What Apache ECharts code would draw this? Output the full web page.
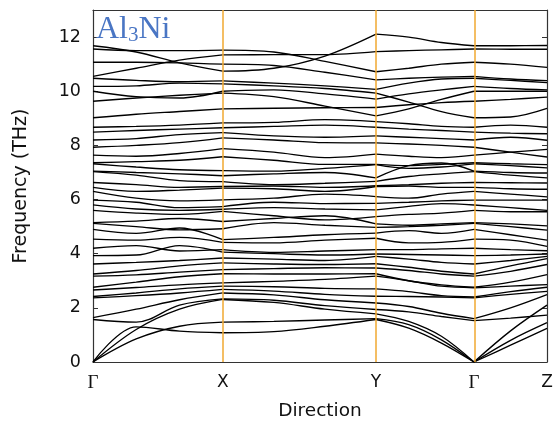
<!DOCTYPE html>
<html><head><meta charset="utf-8">
<script src="https://cdn.jsdelivr.net/npm/echarts@6/dist/echarts.min.js"></script>
<style>html,body{margin:0;padding:0;background:#fff}#c{width:556px;height:426px}</style>
</head><body><div id="c"></div>
<script>
// High-symmetry path labels and their positions along the path
const kLabels = ['Γ', 'X', 'Y', 'Γ', 'Z'];
const kTicks = [0, 1.0, 2.182, 2.937, 3.5];
// Sample positions along the k-path (shared by every band)
const kx = [0, 0.333, 0.667, 1.0, 1.394, 1.788, 2.182, 2.434, 2.686, 2.937, 3.219, 3.5];
// Segment index ranges (Γ-X, X-Y, Y-Γ, Γ-Z)
const segs = [[0, 3], [3, 6], [6, 9], [9, 11]];
// Band frequencies (THz) at the sample positions
const b01 = [0, 1.3, 1.14, 1.08, 1.12, 1.32, 1.57, 1.25, 0.7, 0, 0.62, 1.24];
const b02 = [0, 0.85, 1.32, 1.47, 1.5, 1.55, 1.60, 1.38, 0.82, 0, 0.8, 1.45];
const b03 = [0, 1.2, 1.95, 2.31, 2.2, 1.95, 1.78, 1.5, 0.95, 0, 1.15, 2.10];
const b04 = [1.57, 1.47, 2.1, 2.33, 2.28, 2.08, 1.94, 1.85, 1.68, 1.53, 1.62, 1.73];
const b05 = [1.64, 1.95, 2.3, 2.55, 2.48, 2.3, 2.18, 2.05, 1.8, 1.6, 2.0, 2.49];
const b06 = [2.37, 2.45, 2.55, 2.68, 2.62, 2.5, 2.43, 2.42, 2.4, 2.37, 2.5, 2.61];
const b07 = [2.42, 2.55, 2.7, 2.80, 2.78, 2.72, 2.70, 2.6, 2.45, 2.40, 2.6, 2.76];
const b08 = [2.66, 2.75, 2.85, 2.92, 2.98, 3.05, 3.17, 3.0, 2.8, 2.74, 2.8, 2.86];
const b09 = [2.76, 2.95, 3.15, 3.26, 3.25, 3.25, 3.26, 3.0, 2.85, 2.76, 2.95, 3.23];
const b10 = [3.17, 3.22, 3.32, 3.41, 3.45, 3.48, 3.47, 3.38, 3.25, 3.17, 3.35, 3.60];
const b11 = [3.25, 3.38, 3.55, 3.66, 3.62, 3.6, 3.63, 3.5, 3.35, 3.25, 3.55, 3.82];
const b12 = [3.62, 3.68, 3.75, 3.84, 3.8, 3.75, 3.9, 3.8, 3.68, 3.62, 3.75, 3.90];
const b13 = [3.93, 3.95, 4.3, 4.06, 4.0, 3.95, 3.99, 3.97, 3.95, 3.93, 3.95, 3.99];
const b14 = [4.2, 4.3, 4.1, 4.15, 4.05, 4.1, 4.15, 4.15, 4.18, 4.2, 4.15, 4.11];
const b15 = [4.54, 4.5, 4.6, 4.42, 4.4, 4.5, 4.57, 4.4, 4.42, 4.54, 4.5, 4.27];
const b16 = [4.9, 4.75, 4.95, 4.52, 4.6, 4.7, 4.76, 4.85, 4.75, 4.9, 4.7, 4.5];
const b17 = [5.12, 5.0, 4.88, 4.92, 5.15, 5.05, 4.97, 5.0, 5.05, 5.12, 5.0, 4.87];
const b18 = [5.15, 5.2, 5.3, 5.19, 5.3, 5.4, 5.1, 5.05, 5.1, 5.15, 5.1, 5.03];
const b19 = [5.6, 5.5, 5.45, 5.56, 5.4, 5.25, 5.37, 5.45, 5.5, 5.6, 5.55, 5.55];
const b20 = [5.8, 5.65, 5.6, 5.64, 5.7, 5.65, 5.62, 5.75, 5.85, 5.8, 5.7, 5.6];
const b21 = [5.98, 5.9, 5.7, 5.74, 5.9, 5.85, 5.86, 5.9, 5.95, 5.98, 5.98, 5.98];
const b22 = [6.3, 6.05, 5.95, 5.99, 6.05, 6.2, 6.11, 6.05, 6.2, 6.3, 6.2, 6.1];
const b23 = [6.45, 6.3, 6.35, 6.42, 6.4, 6.3, 6.48, 6.5, 6.45, 6.45, 6.4, 6.38];
const b24 = [6.63, 6.55, 6.45, 6.48, 6.5, 6.45, 6.51, 6.55, 6.6, 6.63, 6.62, 6.61];
const b25 = [7.03, 6.9, 6.7, 6.66, 6.55, 6.6, 6.67, 6.85, 6.95, 7.03, 6.9, 6.80];
const b26 = [7.05, 7.0, 6.95, 6.88, 6.95, 7.0, 6.80, 7.25, 7.35, 7.05, 7.0, 6.98];
const b27 = [7.32, 7.2, 7.1, 7.07, 7.05, 7.15, 7.29, 7.15, 7.2, 7.32, 7.25, 7.17];
const b28 = [7.36, 7.4, 7.45, 7.58, 7.45, 7.3, 7.3, 7.25, 7.3, 7.36, 7.32, 7.29];
const b29 = [7.64, 7.6, 7.7, 7.88, 7.75, 7.55, 7.68, 7.6, 7.55, 7.64, 7.75, 7.85];
const b30 = [7.93, 8.0, 8.1, 8.28, 8.2, 8.1, 8.09, 8.05, 8.0, 7.93, 7.75, 7.57];
const b31 = [8.2, 8.25, 8.4, 8.47, 8.35, 8.3, 8.35, 8.3, 8.25, 8.2, 8.3, 8.19];
const b32 = [8.49, 8.55, 8.6, 8.65, 8.7, 8.75, 8.67, 8.6, 8.55, 8.49, 8.45, 8.43];
const b33 = [8.67, 8.7, 8.75, 8.83, 8.85, 8.95, 8.88, 8.8, 8.7, 8.67, 8.75, 8.67];
const b34 = [9.02, 9.15, 9.25, 9.35, 9.37, 9.39, 9.40, 9.5, 9.58, 9.63, 9.7, 9.78];
const b35 = [9.63, 9.75, 9.85, 9.93, 9.8, 9.45, 9.09, 9.35, 9.7, 10.0, 10.0, 10.0];
const b36 = [10.0, 9.8, 9.75, 10.0, 10.05, 9.9, 9.71, 9.9, 10.05, 10.18, 10.1, 10.05];
const b37 = [10.18, 10.2, 10.3, 10.27, 10.2, 10.1, 9.93, 9.6, 9.25, 9.02, 9.05, 9.37];
const b38 = [10.48, 10.4, 10.35, 10.38, 10.3, 10.2, 10.07, 10.3, 10.45, 10.48, 10.4, 10.32];
const b39 = [11.68, 11.45, 11.05, 10.74, 10.85, 11.3, 12.11, 12.0, 11.8, 11.68, 11.68, 11.69];
const b40 = [11.56, 11.5, 11.5, 11.52, 11.45, 11.1, 10.72, 10.85, 11.0, 11.07, 11.0, 10.88];
const b41 = [11.07, 11.07, 11.05, 11.0, 10.95, 10.7, 10.42, 10.48, 10.52, 10.55, 10.45, 10.39];
const b42 = [10.55, 10.85, 11.15, 11.34, 11.35, 11.35, 11.46, 11.5, 11.53, 11.56, 11.55, 11.55];
const bands = [b01,b02,b03,b04,b05,b06,b07,b08,b09,b10,b11,b12,b13,b14,b15,b16,b17,b18,b19,b20,b21,
  b22,b23,b24,b25,b26,b27,b28,b29,b30,b31,b32,b33,b34,b35,b36,b37,b38,b39,b40,b41,b42];
// Vertical high-symmetry separators
const vLines = [1.0, 2.182, 2.937];

const FONT = 'DejaVu Sans';
const series = [];
bands.forEach(function (b) {
  segs.forEach(function (s) {
    const d = [];
    for (let i = s[0]; i <= s[1]; i++) d.push([kx[i], b[i]]);
    series.push({
      type: 'line', data: d, smooth: 0.35, symbol: 'none', silent: true,
      animation: false, z: 3,
      lineStyle: { color: '#000', width: 1.35 }
    });
  });
});
series.push({
  type: 'line', data: [], symbol: 'none', silent: true, animation: false, z: 2,
  markLine: {
    silent: true, symbol: 'none', animation: false, label: { show: false },
    lineStyle: { color: '#f0a830', width: 1.5, type: 'solid' },
    data: vLines.map(function (v) { return { xAxis: v }; })
  }
});

const chart = echarts.init(document.getElementById('c'), null, { renderer: 'canvas' });
chart.setOption({
  backgroundColor: '#fff',
  animation: false,
  title: {
    text: '{a|Al}{s|3}{a|Ni}',
    left: 96, top: 14, padding: 0,
    textStyle: {
      fontWeight: 'normal',
      rich: {
        a: { fontFamily: 'Liberation Serif', fontSize: 32, fontWeight: 'normal', color: '#4a76c4' },
        s: { fontFamily: 'Liberation Serif', fontSize: 21, fontWeight: 'normal', color: '#4a76c4', padding: [10, 0, 0, 0] }
      }
    }
  },
  grid: { left: 93, right: 9, top: 10, bottom: 64, show: false },
  xAxis: [{
    type: 'value', min: 0, max: 3.5, position: 'bottom',
    axisLine: { show: true, onZero: false, lineStyle: { color: '#333', width: 1.2 } },
    axisTick: { show: false },
    splitLine: { show: false },
    axisLabel: {
      customValues: kTicks, margin: 12, fontFamily: FONT, fontSize: 17, color: '#111',
      formatter: function (v) {
        let best = 0;
        for (let i = 0; i < kTicks.length; i++) if (Math.abs(kTicks[i] - v) < Math.abs(kTicks[best] - v)) best = i;
        return kLabels[best] === 'Γ' ? '{g|Γ}' : kLabels[best];
      },
      rich: { g: { fontFamily: 'Liberation Serif', fontSize: 19, color: '#111' } }
    },
    name: 'Direction', nameLocation: 'middle', nameGap: 40,
    nameTextStyle: { fontFamily: FONT, fontSize: 18.5, color: '#111' }
  }, {
    type: 'value', min: 0, max: 3.5, position: 'top',
    axisLine: { show: true, onZero: false, lineStyle: { color: '#333', width: 1.2 } },
    axisTick: { show: false }, axisLabel: { show: false }, splitLine: { show: false }
  }],
  yAxis: [{
    type: 'value', min: 0, max: 13, interval: 2, position: 'left',
    axisLine: { show: true, onZero: false, lineStyle: { color: '#333', width: 1.2 } },
    axisTick: { show: true, inside: true, length: 5, lineStyle: { color: '#333' } },
    splitLine: { show: false },
    axisLabel: { fontFamily: FONT, fontSize: 17.5, color: '#111', margin: 12, showMaxLabel: false },
    name: 'Frequency (THz)', nameLocation: 'middle', nameGap: 62, nameRotate: 90,
    nameTextStyle: { fontFamily: FONT, fontSize: 19, color: '#111' }
  }, {
    type: 'value', min: 0, max: 13, interval: 2, position: 'right',
    axisLine: { show: true, onZero: false, lineStyle: { color: '#333', width: 1.2 } },
    axisTick: { show: true, inside: true, length: 5, lineStyle: { color: '#333' } },
    splitLine: { show: false }, axisLabel: { show: false }
  }],
  series: series
});
</script>
</body></html>
